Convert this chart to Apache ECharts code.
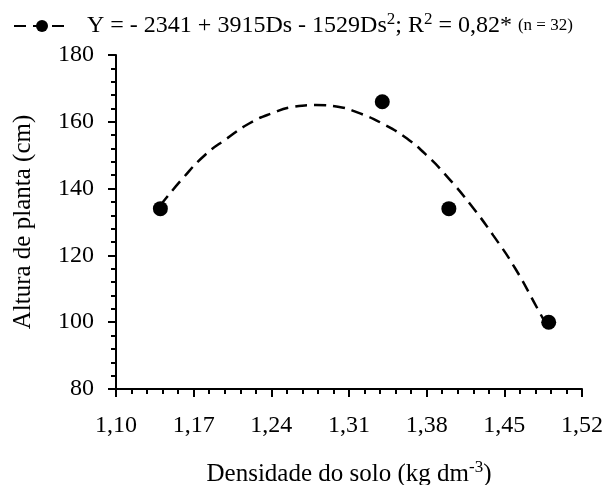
<!DOCTYPE html>
<html>
<head>
<meta charset="utf-8">
<script src="https://cdn.jsdelivr.net/npm/echarts@6/dist/echarts.min.js"></script>
<style>
  html, body { margin: 0; padding: 0; background: #fff; }
  #chart { width: 607px; height: 485px; }
</style>
</head>
<body>
<div id="chart"></div>
<script>
// observed means
const densidade = [1.14, 1.34, 1.40, 1.49]
const altura = [134, 166, 134, 100]

// fitted curve
const curveX = [1.14, 1.16, 1.18, 1.20, 1.22, 1.24, 1.26, 1.28, 1.30, 1.32, 1.34, 1.36, 1.38, 1.40, 1.42, 1.44, 1.46, 1.48, 1.49]
const curveY = [135, 143, 150, 155, 159.5, 162.5, 164.5, 165, 164.5, 162.5, 159.5, 155.5, 150, 143, 135, 126, 116, 104, 98]

const xTicks = ['1,10', '1,17', '1,24', '1,31', '1,38', '1,45', '1,52']
const yTicks = [80, 100, 120, 140, 160, 180]

// x axis is drawn from an offset so the ticks start at 1,10
const X0 = 1.10
const serif = '"Liberation Serif", "DejaVu Serif", serif'

const chart = echarts.init(document.getElementById('chart'))

chart.setOption({
    backgroundColor: '#fff',
    animation: false,
    textStyle: { fontFamily: serif, color: '#000' },
    grid: { left: 116, right: 25, top: 55, bottom: 96, outerBoundsMode: 'none' },
    legend: {
        data: ['ajuste'],
        left: 8, top: 6,
        itemWidth: 56, itemHeight: 15,
        formatter: () => '{g|}Y = - 2341 + 3915Ds - 1529Ds{sup|2}; R{sup|2} = 0,82* {sm|(n = 32)}',
        textStyle: {
            fontFamily: serif, fontSize: 24, color: '#000',
            rich: {
                g: { width: 12 },
                sup: { fontFamily: serif, fontSize: 17, color: '#000', verticalAlign: 'top', padding: [0, 0, 13, 0] },
                sm: { fontFamily: serif, fontSize: 17, color: '#000' }
            }
        }
    },
    xAxis: {
        type: 'value',
        min: 0, max: 0.42, interval: 0.07,
        name: 'Densidade do solo (kg dm{sup|-3})',
        nameLocation: 'middle', nameGap: 70,
        nameTextStyle: {
            fontFamily: serif, fontSize: 25, color: '#000',
            rich: { sup: { fontFamily: serif, fontSize: 17, color: '#000', padding: [0, 0, 13, 0] } }
        },
        axisLine: { lineStyle: { color: '#000', width: 2 } },
        axisTick: { length: 8, lineStyle: { color: '#000', width: 2 } },
        minorTick: { show: true, splitNumber: 5, length: 5, lineStyle: { color: '#000', width: 2 } },
        splitLine: { show: false },
        axisLabel: {
            fontFamily: serif, fontSize: 24, color: '#000', margin: 25,
            formatter: (v) => xTicks[Math.round(v / 0.07)] || ''
        }
    },
    yAxis: {
        type: 'value',
        min: 80, max: 180, interval: 20,
        name: 'Altura de planta (cm)',
        nameLocation: 'middle', nameGap: 80,
        nameTextStyle: { fontFamily: serif, fontSize: 25, color: '#000' },
        axisLine: { show: true, lineStyle: { color: '#000', width: 2 } },
        axisTick: { show: true, length: 8, lineStyle: { color: '#000', width: 2 } },
        minorTick: { show: true, splitNumber: 5, length: 5, lineStyle: { color: '#000', width: 2 } },
        splitLine: { show: false },
        axisLabel: {
            fontFamily: serif, fontSize: 24, color: '#000', margin: 22,
            formatter: (v) => yTicks.includes(v) ? String(v) : ''
        }
    },
    series: [
        {
            name: 'ajuste',
            type: 'line',
            smooth: true,
            symbol: 'circle',
            symbolSize: 15,
            showSymbol: false,
            itemStyle: { color: '#000' },
            lineStyle: { color: '#000', width: 2.5, type: [12, 7] },
            data: curveX.map((x, i) => [x - X0, curveY[i]]),
            z: 2
        },
        {
            name: 'ajuste',
            type: 'scatter',
            symbol: 'circle',
            symbolSize: 15,
            itemStyle: { color: '#000', opacity: 1 },
            data: densidade.map((x, i) => [x - X0, altura[i]]),
            z: 3
        }
    ]
})
</script>
</body>
</html>
